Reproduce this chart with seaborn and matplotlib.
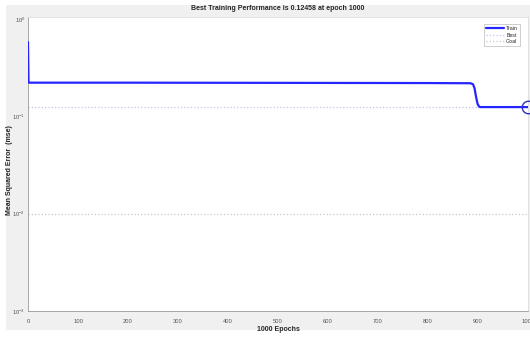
import numpy as np
import pandas as pd
import seaborn as sns
import matplotlib.pyplot as plt
from matplotlib.patches import Rectangle
from matplotlib.ticker import LogLocator, NullFormatter

# Training record (mean squared error per epoch)
epochs = [0, 1, 2, 200, 500, 800, 885, 890, 893, 896, 899, 902, 905, 950, 1000]
train_mse = [0.58, 0.23, 0.222, 0.222, 0.221, 0.220, 0.219, 0.214, 0.195, 0.16, 0.135, 0.126, 0.1246, 0.1246, 0.12458]
best_epoch = 1000
best_perf = 0.12458
goal = 0.01
xticks = [0, 100, 200, 300, 400, 500, 600, 700, 800, 900, 1000]

sns.set_style("white")
plt.rcParams["font.family"] = ["Liberation Sans", "DejaVu Sans"]
plt.rcParams["mathtext.fontset"] = "custom"
plt.rcParams["mathtext.rm"] = "Liberation Sans"

fig = plt.figure(figsize=(5.3, 3.38), dpi=100, facecolor="white")
fig.patches.append(Rectangle((6 / 530, 8 / 338), 524 / 530, 325 / 338,
                             transform=fig.transFigure, facecolor="#f0f0f0",
                             edgecolor="none", zorder=-10))
ax = fig.add_axes([28 / 530, 1 - 311 / 338, 500 / 530, 294 / 338])
ax.set_zorder(1)
ax.set_facecolor("white")

df = pd.DataFrame({"Epoch": epochs, "MSE": train_mse})
sns.lineplot(data=df, x="Epoch", y="MSE", ax=ax, color="#2525ff",
             linewidth=1.6, label="Train", zorder=3)
ax.axhline(best_perf, color="#c4c4ee", linestyle=":", linewidth=0.9, label="Best", zorder=2)
ax.axhline(goal, color="#c8c8c8", linestyle=":", linewidth=0.9, label="Goal", zorder=2)
ax.plot([best_epoch], [best_perf], marker="o", markersize=9, markerfacecolor="none",
        markeredgecolor="#3030c0", markeredgewidth=1.0, zorder=4, clip_on=False)

ax.set_yscale("log")
ax.set_ylim(1e-3, 1.05)
ax.set_xlim(0, 1000)
ax.set_xticks(xticks)
ax.yaxis.set_major_locator(LogLocator(base=10, numticks=10))
ax.yaxis.set_minor_locator(LogLocator(base=10, subs=np.arange(2, 10), numticks=20))
ax.yaxis.set_minor_formatter(NullFormatter())
ax.tick_params(axis="both", which="both", direction="in", labelsize=4.2,
               labelcolor="#555555", color="#888888")
ax.tick_params(axis="both", which="major", length=4, width=0.5)
ax.tick_params(axis="y", which="minor", length=2, width=0.5)
ax.tick_params(axis="x", pad=6)
ax.tick_params(axis="y", pad=2)

for side, sp in ax.spines.items():
    sp.set_linewidth(0.6)
    sp.set_color("#999999" if side in ("left", "bottom") else "#dddddd")

ax.set_title("Best Training Performance is 0.12458 at epoch 1000",
             fontsize=5, fontweight="bold", pad=5)
ax.set_xlabel("1000 Epochs", fontsize=5, fontweight="bold", labelpad=1)
ax.set_ylabel("Mean Squared Error  (mse)", fontsize=5, fontweight="bold")
ax.yaxis.set_label_coords(-0.029, 0.48)

leg = ax.legend(loc="upper right", fontsize=3.8, frameon=True, fancybox=False,
                borderpad=0.4, handlelength=3.4, handletextpad=0.5, labelspacing=0.3,
                bbox_to_anchor=(0.99, 0.985))
leg.get_frame().set_edgecolor("#aaaaaa")
leg.get_frame().set_linewidth(0.5)

fig.savefig("out.png", dpi=100, facecolor="white")
